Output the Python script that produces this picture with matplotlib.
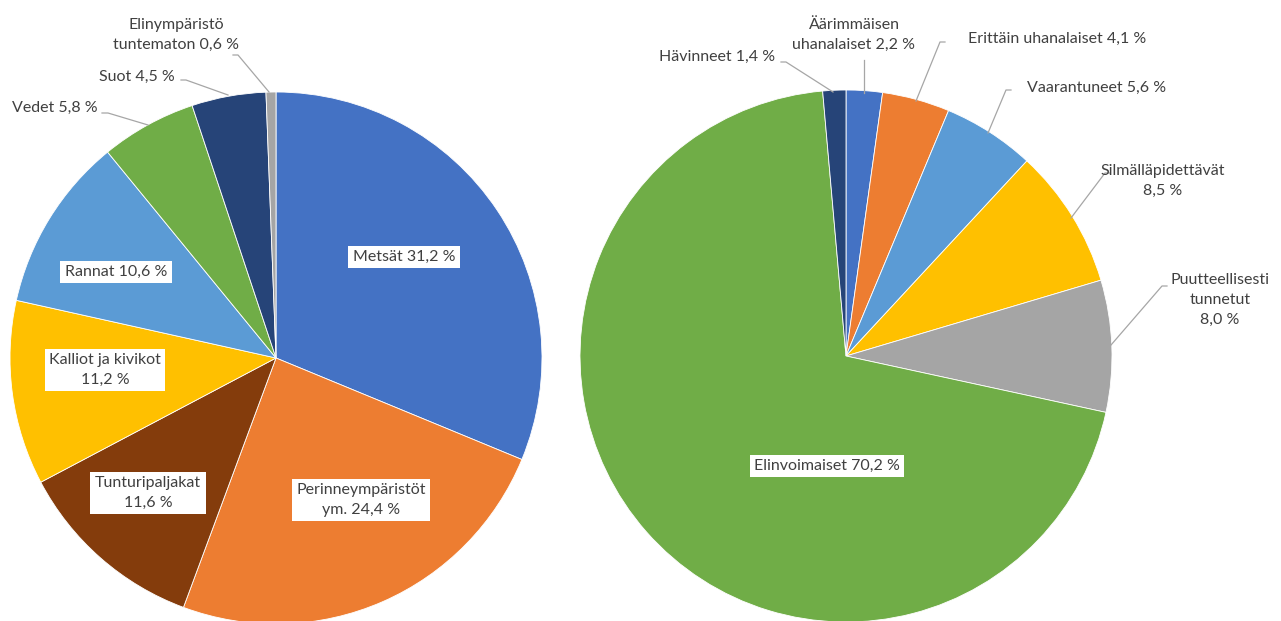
import matplotlib.pyplot as plt

plt.rcParams['font.family'] = ['Lato', 'DejaVu Sans']

# left pie: elinympäristöt
hab_labels = ['Metsät 31,2 %', 'Perinneympäristöt\nym. 24,4 %', 'Tunturipaljakat\n11,6 %',
              'Kalliot ja kivikot\n11,2 %', 'Rannat 10,6 %', 'Vedet 5,8 %', 'Suot 4,5 %',
              'Elinympäristö\ntuntematon 0,6 %']
hab_values = [31.2, 24.4, 11.6, 11.2, 10.6, 5.8, 4.5, 0.6]
hab_colors = ['#4472C4', '#ED7D31', '#843C0C', '#FFC000', '#5B9BD5', '#70AD47', '#264478', '#A5A5A5']

# right pie: uhanalaisuusluokat
cat_labels = ['Äärimmäisen\nuhanalaiset 2,2 %', 'Erittäin uhanalaiset 4,1 %', 'Vaarantuneet 5,6 %',
              'Silmälläpidettävät\n8,5 %', 'Puutteellisesti\ntunnetut\n8,0 %',
              'Elinvoimaiset 70,2 %', 'Hävinneet 1,4 %']
cat_values = [2.2, 4.1, 5.6, 8.5, 8.0, 70.2, 1.4]
cat_colors = ['#4472C4', '#ED7D31', '#5B9BD5', '#FFC000', '#A5A5A5', '#70AD47', '#264478']

W, H = 1281, 621
fig = plt.figure(figsize=(W / 100, H / 100), dpi=100)
ax = fig.add_axes([0, 0, 1, 1])
ax.set_xlim(0, W)
ax.set_ylim(0, H)
ax.set_aspect('equal')
ax.axis('off')

R = 266
ax.pie(hab_values, colors=hab_colors, startangle=90, counterclock=False,
       center=(276, H - 358), radius=R, wedgeprops=dict(linewidth=0.6, edgecolor='white'))
ax.pie(cat_values, colors=cat_colors, startangle=90, counterclock=False,
       center=(846, H - 356), radius=R, wedgeprops=dict(linewidth=0.6, edgecolor='white'))
ax.set_xlim(0, W)
ax.set_ylim(0, H)

txt = '#404040'
fs = 11.5
box = dict(boxstyle='square,pad=0.28', fc='white', ec='none')

def lab(s, x, y, boxed=False):
    ax.text(x, H - y, s, ha='center', va='center', color=txt, fontsize=fs,
            linespacing=1.55, bbox=box if boxed else None)

def lead(pts):
    ax.plot([p[0] for p in pts], [H - p[1] for p in pts], color='#A6A6A6', lw=0.9)

# left pie labels
inside_left = {0: (404, 257), 1: (361, 500), 2: (148, 493), 3: (105, 370), 4: (116, 272)}
for i, (x, y) in inside_left.items():
    lab(hab_labels[i], x, y, boxed=True)
lab(hab_labels[5], 55, 108)
lab(hab_labels[6], 137, 77)
lab(hab_labels[7], 176, 35)
lead([(102, 113), (108, 113), (148, 125)])
lead([(181, 80), (186, 80), (228, 95)])
lead([(233, 55), (238, 55), (269, 92)])

# right pie labels
lab(cat_labels[5], 827, 466, boxed=True)
lab(cat_labels[6], 717, 57)
lab(cat_labels[0], 854, 35)
lab(cat_labels[1], 1057, 39)
lab(cat_labels[2], 1097, 88)
lab(cat_labels[3], 1163, 181)
lab(cat_labels[4], 1220, 300)
lead([(781, 62), (786, 62), (833, 92)])
lead([(864, 60), (864, 93)])
lead([(945, 42), (940, 42), (916, 101)])
lead([(1011, 90), (1006, 90), (988, 133)])
lead([(1110, 173), (1105, 173), (1071, 218)])
lead([(1167, 286), (1162, 286), (1111, 345)])

fig.savefig('out.png', dpi=100, facecolor='white')
